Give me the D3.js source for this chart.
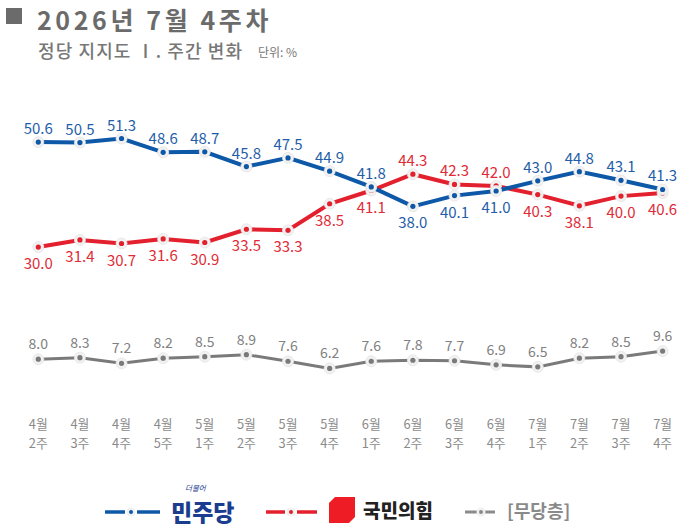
<!DOCTYPE html>
<html>
<head>
<meta charset="utf-8">
<script src="https://cdn.jsdelivr.net/npm/d3@7"></script>
<style>
  body { margin: 0; background: #fff; }
  svg { display: block; font-family: "Noto Sans CJK KR", "Noto Sans", sans-serif; }
</style>
</head>
<body>
<svg width="685" height="527"></svg>
<script>
// weekly party support, %
var weeks = ["4월 2주","4월 3주","4월 4주","4월 5주","5월 1주","5월 2주","5월 3주","5월 4주",
             "6월 1주","6월 2주","6월 3주","6월 4주","7월 1주","7월 2주","7월 3주","7월 4주"];
var minjoo = [50.6, 50.5, 51.3, 48.6, 48.7, 45.8, 47.5, 44.9, 41.8, 38.0, 40.1, 41.0, 43.0, 44.8, 43.1, 41.3];
var ppp    = [30.0, 31.4, 30.7, 31.6, 30.9, 33.5, 33.3, 38.5, 41.1, 44.3, 42.3, 42.0, 40.3, 38.1, 40.0, 40.6];
var none   = [8.0, 8.3, 7.2, 8.2, 8.5, 8.9, 7.6, 6.2, 7.6, 7.8, 7.7, 6.9, 6.5, 8.2, 8.5, 9.6];

function main() {
    var svg = d3.select("svg");

    var x = d3.scalePoint().domain(weeks).range([38.3, 662.6]);
    var y = d3.scaleLinear().domain([0, 50]).range([400, 145.15]);

    // title
    svg.append("rect").attr("x", 6).attr("y", 8).attr("width", 16).attr("height", 16).attr("fill", "#6b6b6b");
    svg.append("text").attr("x", 37).attr("y", 29.5)
        .attr("font-size", 25).attr("font-weight", 700).attr("fill", "#6b6b6b")
        .attr("letter-spacing", 3.6)
        .text("2026년 7월 4주차");
    svg.append("text").attr("x", 38).attr("y", 58).attr("fill", "#777")
        .attr("font-size", 18).attr("font-weight", 500).attr("letter-spacing", 1.1)
        .text("정당 지지도  Ⅰ. 주간 변화");
    svg.append("text").attr("x", 258).attr("y", 57).attr("fill", "#777")
        .attr("font-size", 12).text("단위: %");

    var series = [
        { vals: none,   line: "#7a7a7a", text: "#808080", width: 3, size: 14,
          pos: none.map(function() { return "up"; }) },
        { vals: ppp,    line: "#e3202d", text: "#e02b36", width: 4, size: 15,
          pos: ppp.map(function(v, i) { return v > minjoo[i] ? "up" : "down"; }) },
        { vals: minjoo, line: "#0e58a8", text: "#1f5ea9", width: 4, size: 15,
          pos: minjoo.map(function(v, i) { return v >= ppp[i] ? "up" : "down"; }) }
    ];

    var line = d3.line()
        .x(function(d, i) { return x(weeks[i]); })
        .y(function(d) { return y(d); });

    series.forEach(function(s) {
        var g = svg.append("g");
        g.append("path").datum(s.vals)
            .attr("fill", "none").attr("stroke", s.line)
            .attr("stroke-width", s.width).attr("d", line);
        g.selectAll(".halo").data(s.vals).enter().append("circle")
            .attr("cx", function(d, i) { return x(weeks[i]); })
            .attr("cy", function(d) { return y(d); })
            .attr("r", 5.5).attr("fill", "#f1f1f1").attr("stroke", "#e4e4e4").attr("stroke-width", 0.8);
        g.selectAll(".dot").data(s.vals).enter().append("circle")
            .attr("cx", function(d, i) { return x(weeks[i]); })
            .attr("cy", function(d) { return y(d); })
            .attr("r", 2.6).attr("fill", s.line);
        g.selectAll("text").data(s.vals).enter().append("text")
            .attr("x", function(d, i) { return x(weeks[i]); })
            .attr("y", function(d, i) {
                if (s.pos[i] == "up") return y(d) - (s.vals === none ? 10 : 8);
                return y(d) + 22;
            })
            .attr("text-anchor", "middle")
            .attr("font-size", s.size).attr("fill", s.text)
            .text(function(d) { return d.toFixed(1); });
    });

    // x labels, two lines
    var xg = svg.append("g").attr("font-size", 12.8).attr("fill", "#8a8a8a").attr("text-anchor", "middle");
    xg.selectAll(".m").data(weeks).enter().append("text")
        .attr("x", function(d) { return x(d); }).attr("y", 429)
        .text(function(d) { return d.split(" ")[0]; });
    xg.selectAll(".w").data(weeks).enter().append("text")
        .attr("x", function(d) { return x(d); }).attr("y", 447.5)
        .text(function(d) { return d.split(" ")[1]; });

    // legend
    function legendMark(x0, x1, dot, x2, x3, color, w) {
        var g = svg.append("g");
        g.append("line").attr("x1", x0).attr("x2", x1).attr("y1", 512).attr("y2", 512)
            .attr("stroke", color).attr("stroke-width", w);
        g.append("line").attr("x1", x2).attr("x2", x3).attr("y1", 512).attr("y2", 512)
            .attr("stroke", color).attr("stroke-width", w);
        g.append("circle").attr("cx", dot).attr("cy", 512).attr("r", 4.5).attr("fill", "#f1f1f1");
        g.append("circle").attr("cx", dot).attr("cy", 512).attr("r", 2).attr("fill", color);
    }
    legendMark(105, 125, 131, 137, 160, "#0e58a8", 3.5);
    svg.append("text").attr("x", 185).attr("y", 491).attr("font-size", 7.5).attr("fill", "#1a3d8f")
        .attr("font-style", "italic").text("더불어");
    svg.append("text").attr("x", 171).attr("y", 521).attr("font-size", 23).attr("font-weight", 900)
        .attr("fill", "#1a3d8f").text("민주당");

    legendMark(266, 285, 291, 297, 317, "#e3202d", 3.5);
    svg.append("path")
        .attr("d", "M335,497 L355,497 L355,517 L349,523 L329,523 L329,503 Z")
        .attr("fill", "#ee1c25");
    svg.append("text").attr("x", 363).attr("y", 518).attr("font-size", 19).attr("font-weight", 900)
        .attr("fill", "#222").text("국민의힘");

    legendMark(465, 477, 481, 485, 495, "#8a8a8a", 3);
    svg.append("text").attr("x", 507).attr("y", 518).attr("font-size", 18).attr("font-weight", 700)
        .attr("fill", "#8a8a8a").text("[무당층]");
}
main();
</script>
</body>
</html>
